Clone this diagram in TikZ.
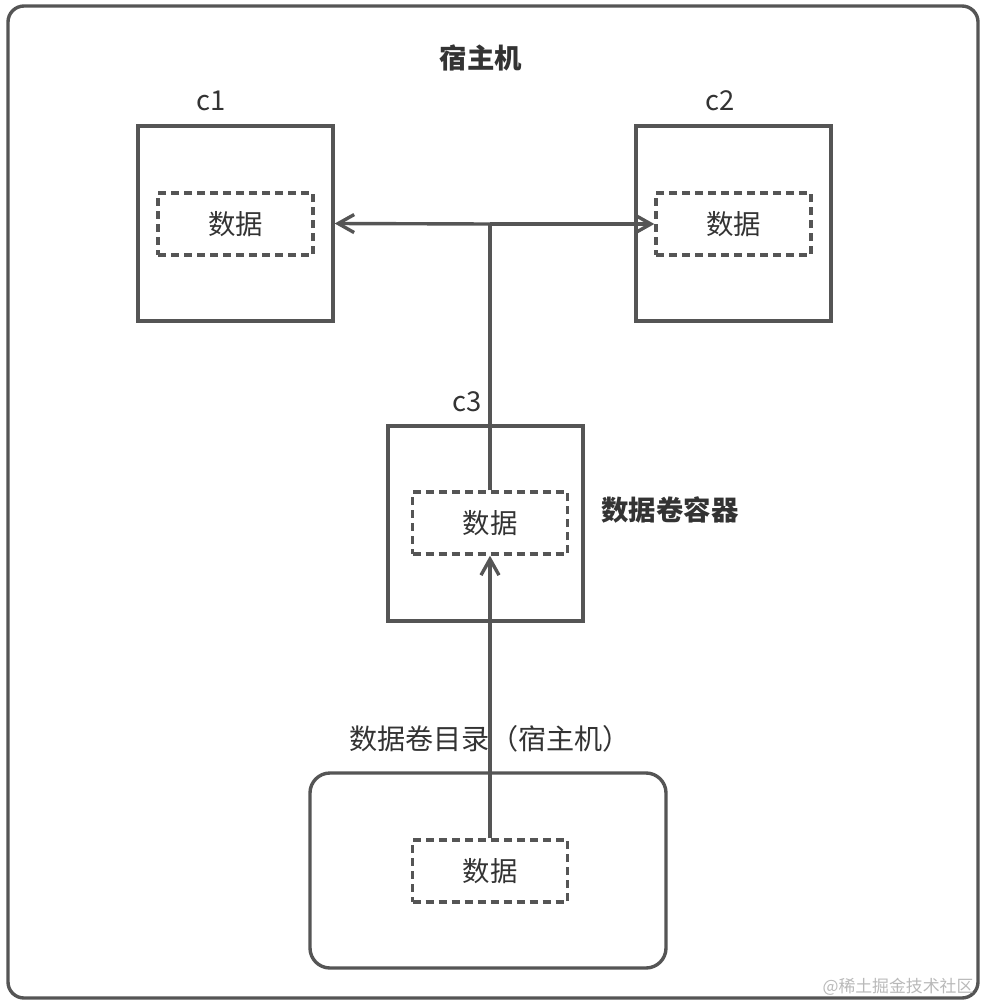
\documentclass[tikz,border=0pt]{standalone}
\usepackage{fontspec}
\setmainfont{Noto Sans CJK SC}
\usetikzlibrary{arrows.meta}
\definecolor{linegray}{HTML}{555555}
\definecolor{textgray}{HTML}{333333}
\tikzset{
  box/.style={draw=linegray, line width=0.85mm, minimum width=48.75mm, minimum height=48.75mm, inner sep=0pt},
  databox/.style={draw=linegray, line width=0.85mm, dash pattern=on 2mm off 1.25mm,
    minimum width=38.75mm, minimum height=15.5mm, inner sep=0pt, text=textgray,
    font=\fontsize{19.5}{22}\selectfont},
  lbl/.style={text=textgray, inner sep=0pt, font=\fontsize{19.5}{22}\selectfont},
  boldlbl/.style={lbl, font=\fontsize{19.5}{22}\selectfont\bfseries},
  link/.style={draw=linegray, line width=0.85mm, -{Straight Barb[length=4mm,width=4.5mm]}}
}
\begin{document}
\begin{tikzpicture}[x=0.25mm, y=-0.25mm]
    \useasboundingbox (0,0) rectangle (988,1005);
    % outer frame
    \draw[linegray, line width=0.85mm, rounded corners=4mm] (8,6) rectangle (978,998);
    \node[boldlbl] (title) at (481,58) {宿主机};
    % c1 and c2
    \node[box] (c1) at (235.5,223.5) {};
    \node[databox] (d1) at (235.5,224) {数据};
    \node[lbl] (c1label) at (211,101) {c1};
    \node[box] (c2) at (733.5,223.5) {};
    \node[databox] (d2) at (733.5,224) {数据};
    \node[lbl] (c2label) at (720,101) {c2};
    % c3, the volume container
    \node[box] (c3) at (485.5,523.5) {};
    \node[databox] (d3) at (490,523) {数据};
    \node[lbl] (c3label) at (467,402) {c3};
    \node[boldlbl] (c3name) at (670,510) {数据卷容器};
    % host directory
    \node[draw=linegray, line width=0.85mm, rounded corners=5mm, minimum width=89mm,
          minimum height=48.75mm] (host) at (488,870.5) {};
    \node[databox] (d4) at (490,871) {数据};
    \node[lbl, font=\fontsize{20}{24}\selectfont] (hostlabel) at (490,739) {数据卷目录（宿主机）};
    % connectors
    \coordinate (j) at (d3.north |- d1.east);
    \draw[linegray, line width=0.85mm] (d3.north) -- (j);
    \draw[link] (j) -- (c1.east);
    \draw[link] (j) -- (d2.west);
    \draw[link] (d4.north) -- (d3.south);
    \node[text=gray!55, inner sep=0pt, font=\fontsize{12}{14}\selectfont] (mark) at (898,987) {@稀土掘金技术社区};
\end{tikzpicture}
\end{document}
